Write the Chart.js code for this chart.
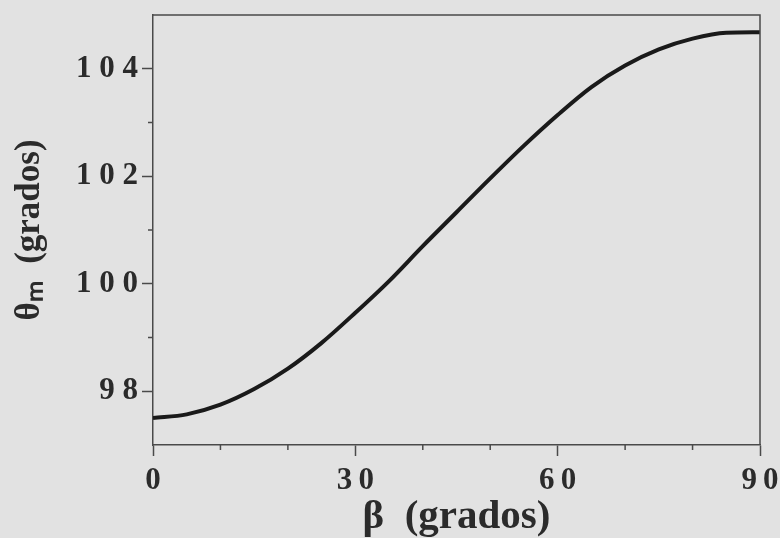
<!DOCTYPE html>
<html>
<head>
<meta charset="utf-8">
<script src="https://cdn.jsdelivr.net/npm/chart.js@4.4.1/dist/chart.umd.min.js"></script>
<style>
  html, body { margin: 0; padding: 0; background: #e2e2e2; }
  #wrap { width: 780px; height: 538px; }
</style>
</head>
<body>
<div id="wrap"><canvas id="c" width="780" height="538"></canvas></div>
<script>
// Data
const beta = [0, 5, 10, 15, 20, 25, 30, 35, 40, 45, 50, 55, 60, 65, 70, 75, 80, 85, 90];
const thetaM = [97.50, 97.57, 97.75, 98.04, 98.42, 98.90, 99.46, 100.05, 100.70, 101.33, 101.96, 102.57, 103.14, 103.66, 104.06, 104.36, 104.56, 104.67, 104.68];
const xTicks = [0, 30, 60, 90];
const yTicks = [98, 100, 102, 104];
const xMinorTicks = [10, 20, 40, 50, 70, 80];
const yMinorTicks = [99, 101, 103];
const xTitle = 'β  (grados)';
const yTitle = 'θₘ  (grados)';

const axisColor = '#4a4a4a';
const textColor = '#2b2b2b';
const fontFam = "'Liberation Serif', serif";
Chart.defaults.font.family = fontFam;

const spacedY = s => String(s).split('').join('\u2008');
const spacedX = s => String(s).split('').join('\u2009');

const frameAndMinor = {
  id: 'frameAndMinor',
  afterDraw(chart) {
    const ctx = chart.ctx;
    const a = chart.chartArea;
    const xs = chart.scales.x, ys = chart.scales.y;
    ctx.save();
    ctx.strokeStyle = axisColor;
    ctx.lineWidth = 1.5;
    ctx.beginPath();
    ctx.moveTo(a.left, a.top);
    ctx.lineTo(a.right, a.top);
    ctx.lineTo(a.right, a.bottom);
    ctx.stroke();
    ctx.beginPath();
    xMinorTicks.forEach(v => {
      const px = xs.getPixelForValue(v);
      ctx.moveTo(px, a.bottom);
      ctx.lineTo(px, a.bottom + 5);
    });
    yMinorTicks.forEach(v => {
      const py = ys.getPixelForValue(v);
      ctx.moveTo(a.left, py);
      ctx.lineTo(a.left - 5, py);
    });
    ctx.stroke();
    ctx.restore();
  }
};

new Chart(document.getElementById('c'), {
  type: 'line',
  data: {
    datasets: [{
      data: beta.map((b, i) => ({ x: b, y: thetaM[i] })),
      borderColor: '#1a1a1a',
      borderWidth: 4,
      pointRadius: 0,
      tension: 0.4,
      cubicInterpolationMode: 'monotone',
      fill: false
    }]
  },
  options: {
    responsive: false,
    animation: false,
    layout: { padding: { top: 15, right: 20, left: 0, bottom: 0 } },
    plugins: { legend: { display: false }, tooltip: { enabled: false } },
    scales: {
      x: {
        type: 'linear',
        min: 0, max: 90,
        afterBuildTicks: s => { s.ticks = xTicks.map(v => ({ value: v })); },
        afterFit: s => { s.height = 93; s.paddingLeft = 0; s.paddingRight = 0; },
        border: { display: true, color: axisColor, width: 1.5 },
        grid: { drawOnChartArea: false, drawTicks: true, tickLength: 11, color: axisColor, tickWidth: 1.5 },
        ticks: {
          color: textColor,
          padding: 6,
          maxRotation: 0,
          autoSkip: false,
          font: { family: fontFam, size: 31, weight: 'bold' },
          callback: v => spacedX(v)
        },
        title: {
          display: true,
          text: xTitle,
          color: textColor,
          font: { family: fontFam, size: 41, weight: 'bold', lineHeight: 1 },
          padding: { top: 0, bottom: 0 }
        }
      },
      y: {
        type: 'linear',
        min: 97, max: 105,
        afterBuildTicks: s => { s.ticks = yTicks.map(v => ({ value: v })); },
        afterFit: s => { s.width = 153; s.paddingTop = 0; s.paddingBottom = 0; },
        border: { display: true, color: axisColor, width: 1.5 },
        grid: { drawOnChartArea: false, drawTicks: true, tickLength: 11, color: axisColor, tickWidth: 1.5 },
        ticks: {
          color: textColor,
          padding: 4,
          autoSkip: false,
          font: { family: fontFam, size: 31, weight: 'bold' },
          callback: v => spacedY(v)
        },
        title: {
          display: true,
          text: yTitle,
          color: textColor,
          font: { family: fontFam, size: 35, weight: 'bold' },
          padding: { top: 9, bottom: 0 }
        }
      }
    }
  },
  plugins: [frameAndMinor]
});
</script>
</body>
</html>
